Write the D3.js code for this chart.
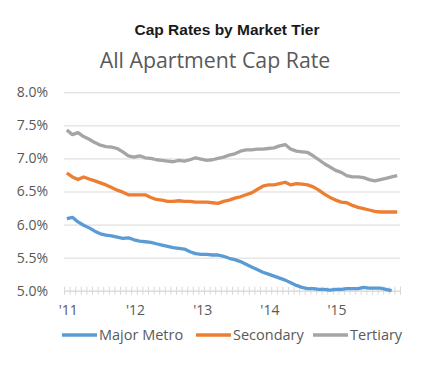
<!DOCTYPE html>
<html><head><meta charset="utf-8">
<script src="https://cdn.jsdelivr.net/npm/d3@7"></script>
<style>
html,body{margin:0;padding:0;background:#fff;}
svg{display:block;}
</style></head>
<body>
<svg id="chart" width="444" height="367"></svg>
<script>
const title = "Cap Rates by Market Tier";
const subtitle = "All Apartment Cap Rate";
const yearLabels = ["'11", "'12", "'13", "'14", "'15"];
const yTicks = [5.0, 5.5, 6.0, 6.5, 7.0, 7.5, 8.0];
const seriesNames = ["Major Metro", "Secondary", "Tertiary"];
const seriesColors = ["#5B9BD5", "#ED7D31", "#A5A5A5"];
const majorMetro = [6.09,6.11,6.04,5.99,5.95,5.90,5.86,5.84,5.83,5.81,5.79,5.80,
  5.77,5.75,5.74,5.73,5.71,5.69,5.67,5.65,5.64,5.63,5.59,5.56,
  5.55,5.55,5.54,5.54,5.52,5.49,5.47,5.44,5.40,5.36,5.32,5.28,
  5.25,5.22,5.19,5.16,5.12,5.08,5.05,5.03,5.03,5.02,5.02,5.01,
  5.02,5.02,5.03,5.03,5.03,5.05,5.04,5.04,5.04,5.02,5.00];
const secondary = [6.78,6.72,6.68,6.72,6.69,6.66,6.63,6.60,6.56,6.52,6.49,6.45,
  6.45,6.45,6.45,6.41,6.38,6.37,6.35,6.35,6.36,6.35,6.35,6.34,
  6.34,6.34,6.33,6.32,6.35,6.37,6.40,6.42,6.45,6.48,6.53,6.58,
  6.60,6.60,6.62,6.64,6.60,6.62,6.61,6.60,6.57,6.52,6.46,6.41,
  6.37,6.34,6.33,6.29,6.26,6.24,6.22,6.20,6.19,6.19,6.19,6.19];
const tertiary = [7.43,7.36,7.39,7.33,7.29,7.24,7.20,7.18,7.17,7.15,7.10,7.04,
  7.02,7.04,7.01,7.00,6.98,6.97,6.96,6.95,6.97,6.96,6.98,7.01,
  6.99,6.97,6.98,7.00,7.02,7.05,7.07,7.11,7.13,7.13,7.14,7.14,
  7.15,7.16,7.19,7.21,7.14,7.11,7.10,7.09,7.04,6.98,6.92,6.87,
  6.82,6.79,6.74,6.72,6.72,6.71,6.68,6.66,6.68,6.70,6.72,6.74];
const nMonths = 60;

(function () {
const svg = d3.select("#chart");
const font = "'Open Sans', 'Noto Sans', sans-serif";
const mLeft = 64, mRight = 400, mTop = 92.3, mBottom = 290.7;

const x = d3.scaleLinear().domain([0, nMonths]).range([mLeft, mRight]);
const y = d3.scaleLinear().domain([5.0, 8.0]).range([mBottom, mTop]);

svg.append("text").attr("x", 227).attr("y", 35).attr("text-anchor", "middle")
  .attr("font-family", "'Liberation Sans', Arial, sans-serif").attr("font-weight", "bold")
  .attr("font-size", 15.5).attr("fill", "#1a1a1a").text(title);
svg.append("text").attr("x", 215).attr("y", 68).attr("text-anchor", "middle")
  .attr("font-family", font).attr("font-size", 21.3).attr("fill", "#595959").text(subtitle);

// gridlines
const yAxis = d3.axisLeft(y).tickValues(yTicks).tickSize(-(mRight - mLeft)).tickPadding(16)
  .tickFormat(d => d3.format(".1f")(d) + "%");
const gy = svg.append("g").attr("transform", `translate(${mLeft},0)`).call(yAxis);
gy.select(".domain").remove();
gy.selectAll(".tick line").attr("stroke", "#D9D9D9").attr("stroke-width", 1);
gy.selectAll(".tick text").attr("font-family", font).attr("font-size", 14).attr("fill", "#595959")
  .attr("x", -16);

// x axis with monthly ticks
const monthTicks = d3.range(0, nMonths + 1);
const xAxis = d3.axisBottom(x).tickValues(monthTicks).tickSize(4).tickFormat("");
const gx = svg.append("g").attr("transform", `translate(0,${mBottom})`).call(xAxis);
gx.select(".domain").attr("stroke", "#D9D9D9");
gx.selectAll(".tick line").attr("stroke", "#D9D9D9").attr("y1", -4).attr("y2", 4);

// year labels
svg.append("g").selectAll("text").data(yearLabels).join("text")
  .attr("x", (d, i) => x(i * 12 + 0.5) + 1.5).attr("y", 315).attr("text-anchor", "middle")
  .attr("font-family", font).attr("font-size", 14).attr("fill", "#595959").text(d => d);

// lines
const allSeries = [majorMetro, secondary, tertiary];
const line = d3.line().x((d, i) => x(i + 0.5)).y(d => y(d));
svg.append("g").selectAll("path").data(allSeries).join("path")
  .attr("d", d => line(d)).attr("fill", "none")
  .attr("stroke", (d, i) => seriesColors[i]).attr("stroke-width", 3.3)
  .attr("stroke-linejoin", "round");

// legend
const legendX = [62, 196, 313];
const lg = svg.append("g").selectAll("g").data(seriesNames).join("g")
  .attr("transform", (d, i) => `translate(${legendX[i]},335)`);
lg.append("line").attr("x1", 0).attr("x2", 35).attr("y1", 0).attr("y2", 0)
  .attr("stroke", (d, i) => seriesColors[i]).attr("stroke-width", 3.3);
lg.append("text").attr("x", 37).attr("y", 5).attr("font-family", font).attr("font-size", 14.5)
  .attr("fill", "#595959").text(d => d);
})();
</script>
</body></html>
